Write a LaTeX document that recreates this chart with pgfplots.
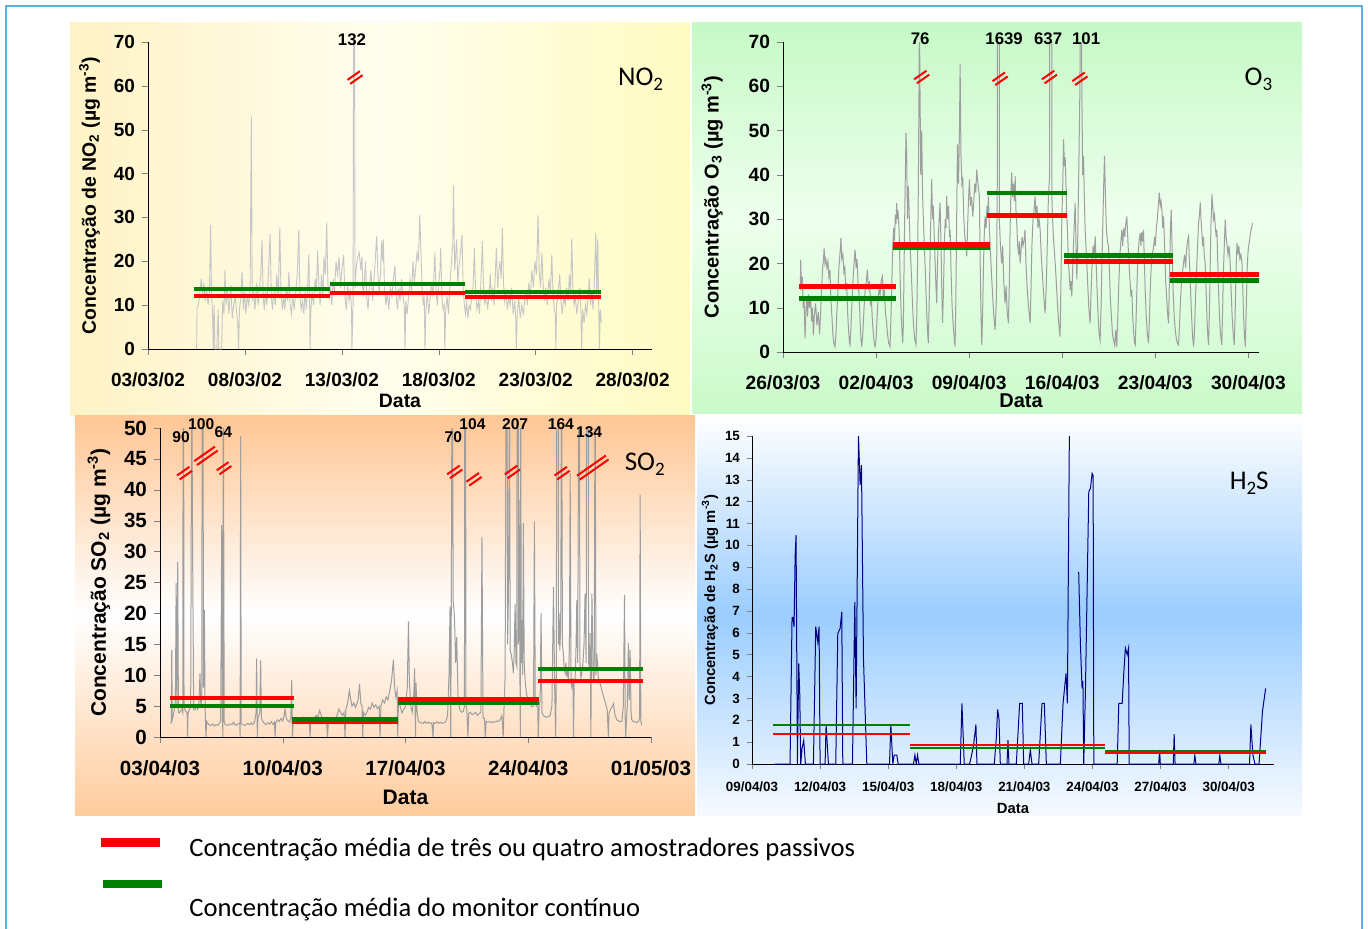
\documentclass[border=0pt]{standalone}
\usepackage{fontspec}
\setmainfont{Liberation Sans}
\newfontfamily\calibri{Carlito}
\usepackage{pgfplots}
\pgfplotsset{compat=1.18}

\definecolor{serie}{RGB}{158,158,158}
\definecolor{serieclara}{RGB}{198,198,198}
\definecolor{vermelho}{RGB}{255,0,0}
\definecolor{verde}{RGB}{0,128,0}
\definecolor{azulh}{RGB}{0,0,128}
\definecolor{moldura}{RGB}{85,180,225}

% marca de quebra (//) num pico fora da escala
\newcommand{\quebra}[3]{%
  \draw[vermelho, line width=1pt] (axis cs:#1,#2) ++(215:#3) ++(125:1.2pt) -- ++(35:2*#3);
  \draw[vermelho, line width=1pt] (axis cs:#1,#2) ++(215:#3) ++(-55:1.2pt) -- ++(35:2*#3);}
\newcommand{\titulo}[2]{{\calibri\fontsize{13.5}{14}\selectfont #1\raisebox{-0.45ex}{\fontsize{9.5}{10}\selectfont #2}}}

\pgfplotsset{
  painel/.style={
    scale only axis, axis lines=left, axis line style={-},
    tick align=outside, major tick length=3pt,
    clip mode=individual, unbounded coords=jump,
    ymin=0, xmin=0,
    /pgf/number format/assume math mode=true,
    xlabel={Data},
  },
}

\begin{document}
\begin{tikzpicture}
\useasboundingbox (0,0) rectangle (684pt,-464pt);

% fundos dos paineis
\shade[left color={rgb,255:red,255;green,243;blue,198}, right color={rgb,255:red,255;green,251;blue,194}, middle color={rgb,255:red,255;green,254;blue,238}] (35pt,-11pt) rectangle (345pt,-207.5pt);
\shade[top color={rgb,255:red,198;green,249;blue,198}, bottom color={rgb,255:red,202;green,250;blue,202}, middle color={rgb,255:red,238;green,255;blue,238}] (346pt,-11pt) rectangle (651pt,-206.5pt);
\shade[top color={rgb,255:red,255;green,198;blue,148}, bottom color={rgb,255:red,255;green,204;blue,158}, middle color=white] (37.5pt,-207.5pt) rectangle (347.5pt,-407.5pt);
\shade[top color=white, bottom color={rgb,255:red,246;green,250;blue,255}, middle color={rgb,255:red,155;green,205;blue,255}] (348.5pt,-207.5pt) rectangle (651pt,-407.5pt);
\draw[moldura, line width=0.6pt] (3pt,-470pt) -- (3pt,-3pt) -- (681pt,-3pt) -- (681pt,-470pt);

% ---------------- NO2 ----------------
\begin{axis}[painel, at={(74pt,-174.5pt)}, anchor=south west,
  width=252pt, height=153.5pt, xmax=26, ymax=70,
  xtick={0,5,...,25},
  xticklabels={03/03/02,08/03/02,13/03/02,18/03/02,23/03/02,28/03/02},
  ytick={0,10,...,70},
  tick label style={font=\bfseries\fontsize{9.5}{10}\selectfont},
  xticklabel style={yshift=-5.5pt},
  label style={font=\bfseries\fontsize{9.7}{10}\selectfont},
  xlabel style={at={(axis description cs:0.5,0)}, anchor=base, yshift=-29pt},
  ylabel={Concentração de NO\textsubscript{2} (µg m\textsuperscript{-3})}]
\addplot[serieclara, line width=0.45pt] coordinates {
(2.51,0)(2.53,9.5)(2.6,10)(2.68,13)(2.75,16)(2.82,12)(2.88,15)(2.95,11)(3.02,14)(3.1,10)(3.17,13)(3.23,28.3)(3.28,12)(3.33,8)(3.37,0)(3.41,10)(3.45,0)(3.55,0)(3.62,9)(3.66,0)(3.72,0)(3.8,0)(3.85,11)(3.92,8)(3.97,18)(4.03,10)(4.1,14)(4.17,8)(4.22,11)(4.27,14.5)(4.35,7)(4.42,10)(4.5,12)(4.58,8)(4.63,6)(4.67,0)(4.72,9)(4.79,12)(4.85,17.6)(4.92,9)(4.98,13)(5.05,8)(5.12,12)(5.2,10)(5.27,14)(5.33,53)(5.38,11)(5.45,13)(5.52,9)(5.6,15)(5.68,10)(5.75,14)(5.82,17)(5.88,24.8)(5.94,12)(6.0,9)(6.06,13)(6.13,10)(6.2,16)(6.3,26.2)(6.36,12)(6.42,9)(6.5,13)(6.57,10)(6.64,17)(6.72,12)(6.8,27.7)(6.86,13)(6.93,9)(7.0,12)(7.06,9)(7.13,14)(7.2,11)(7.27,17.5)(7.33,10)(7.4,8)(7.47,12)(7.54,9)(7.62,13)(7.7,17)(7.78,27.2)(7.84,12)(7.9,9)(7.97,11)(8.04,8)(8.1,13)(8.17,9)(8.24,15)(8.3,21.5)(8.34,10)(8.36,0)(8.4,9)(8.47,13)(8.54,10)(8.62,16)(8.68,13)(8.75,22.3)(8.82,14)(8.88,10)(8.95,17)(9.02,12)(9.08,21)(9.15,17)(9.22,28.8)(9.28,15)(9.35,12)(9.42,14)(9.48,10)(9.55,16)(9.62,13)(9.7,20)(9.78,17)(9.86,21)(9.93,14)(10.0,18)(10.09,21.4)(10.16,12)(10.23,9)(10.3,15)(10.37,11)(10.44,13)(10.5,9)(10.52,0)(10.58,10)(10.63,132)(10.68,14)(10.75,19)(10.82,21)(10.9,22)(10.97,18)(11.04,21)(11.1,12)(11.16,15)(11.22,20)(11.28,12)(11.35,9)(11.42,14)(11.5,18)(11.58,11)(11.65,15)(11.72,20)(11.8,25.8)(11.86,17)(11.93,13)(12.0,18)(12.05,24.7)(12.1,20)(12.14,25)(12.2,14)(12.27,10)(12.34,13)(12.42,9)(12.5,14)(12.58,12)(12.66,16)(12.74,19)(12.8,12)(12.87,9)(12.94,14)(13.0,11)(13.08,16)(13.15,12)(13.22,10)(13.26,0)(13.3,11)(13.37,8)(13.44,12)(13.52,16)(13.6,13)(13.67,20)(13.74,15)(13.8,18)(13.88,22)(13.95,20)(14.02,30.6)(14.08,22)(14.14,14)(14.2,10)(14.25,12)(14.29,0)(14.34,9)(14.41,13)(14.48,8)(14.55,11)(14.62,15)(14.7,12)(14.8,22)(14.86,13)(14.93,10)(15.0,15)(15.06,18)(15.1,23)(15.16,12)(15.22,9)(15.28,10)(15.31,0)(15.36,9)(15.43,12)(15.5,8)(15.58,15)(15.66,20)(15.72,24)(15.76,37.3)(15.82,18)(15.88,22)(15.92,25)(15.98,15)(16.05,19)(16.12,22)(16.2,26)(16.26,14)(16.32,10)(16.38,8)(16.43,11)(16.5,7)(16.57,10)(16.64,9)(16.7,12)(16.77,14)(16.84,23)(16.9,13)(16.97,9)(17.04,11)(17.1,8)(17.18,16)(17.25,24.6)(17.31,14)(17.38,10)(17.45,13)(17.52,9)(17.59,12)(17.66,17)(17.72,11)(17.78,14)(17.85,10)(17.91,16)(17.97,23)(18.04,14)(18.1,18)(18.16,20)(18.22,16)(18.28,27.7)(18.34,15)(18.4,11)(18.47,13)(18.54,9)(18.61,12)(18.68,10)(18.76,14)(18.84,8)(18.92,11)(18.97,7)(19.0,0)(19.05,8)(19.12,12)(19.2,7)(19.28,10)(19.36,8)(19.43,11)(19.5,13)(19.57,10)(19.64,15)(19.72,12)(19.8,18)(19.88,14)(19.96,20)(20.04,17)(20.12,30.5)(20.18,18)(20.25,14)(20.32,22)(20.38,15)(20.45,11)(20.52,14)(20.6,10)(20.68,16)(20.76,13)(20.83,21.5)(20.9,12)(20.96,9)(21.01,8)(21.04,0)(21.08,10)(21.16,13)(21.24,17)(21.3,11)(21.37,8)(21.44,12)(21.52,10)(21.6,14)(21.67,11)(21.74,17)(21.8,13)(21.86,25.2)(21.92,14)(21.98,10)(22.05,12)(22.12,8)(22.2,11)(22.27,14)(22.33,9)(22.37,0)(22.42,9)(22.5,6)(22.57,10)(22.64,8)(22.7,12)(22.77,16)(22.83,10)(22.9,13)(22.96,9)(23.03,16)(23.1,26.5)(23.15,12)(23.2,25)(23.25,10)(23.29,0)(23.33,9)(23.39,6)
};
\addplot[vermelho, line width=2pt] coordinates {(2.37,12.1)(9.38,12.1)};
\addplot[verde, line width=2pt] coordinates {(2.37,13.6)(9.38,13.6)};
\addplot[vermelho, line width=2pt] coordinates {(9.38,12.7)(16.36,12.7)};
\addplot[verde, line width=2pt] coordinates {(9.38,14.8)(16.36,14.8)};
\addplot[vermelho, line width=2pt] coordinates {(16.36,11.8)(23.39,11.8)};
\addplot[verde, line width=2pt] coordinates {(16.36,13.0)(23.39,13.0)};
\quebra{10.68}{61.9}{3.8pt}
\node[anchor=base, font=\bfseries\fontsize{8.4}{9}\selectfont] at (axis cs:10.52,69.3) {132};
\end{axis}
\node[anchor=base west] at (305.5pt,-42.5pt) {\titulo{NO}{2}};

% ---------------- O3 ----------------
\begin{axis}[painel, at={(391.5pt,-176pt)}, anchor=south west,
  width=238pt, height=155pt, xmax=35.8, ymax=70,
  xtick={0,7,...,35},
  xticklabels={26/03/03,02/04/03,09/04/03,16/04/03,23/04/03,30/04/03},
  ytick={0,10,...,70},
  tick label style={font=\bfseries\fontsize{9.6}{10}\selectfont},
  xticklabel style={yshift=-5.5pt},
  label style={font=\bfseries\fontsize{10}{11}\selectfont},
  xlabel style={at={(axis description cs:0.5,0)}, anchor=base, yshift=-27.5pt},
  ylabel style={xshift=0pt, yshift=6pt},
  ylabel={Concentração O\textsubscript{3} (µg m\textsuperscript{-3})}]
\addplot[serie, line width=0.5pt] coordinates {
(1.30,14)(1.33,20.8)(1.38,15)(1.45,17)(1.52,10)(1.58,12)(1.66,3.1)(1.72,9)(1.78,12)(1.85,8)(1.92,13)(2.0,10)(2.08,12)(2.15,7)(2.22,10)(2.28,3.8)(2.35,8)(2.45,11)(2.55,6)(2.65,9)(2.75,4)(2.83,9)(2.9,14)(2.98,19)(3.05,21)(3.09,23.5)(3.15,20)(3.22,21)(3.3,19)(3.38,20.5)(3.45,17)(3.53,18.6)(3.6,12)(3.68,8)(3.75,4)(3.82,2)(3.91,1.2)(3.98,4)(4.05,9)(4.12,13)(4.2,19)(4.28,22)(4.36,25.7)(4.42,21)(4.5,22)(4.58,18)(4.65,19)(4.72,14)(4.79,15.6)(4.86,9)(4.93,5)(5.0,2)(5.04,1.6)(5.1,5)(5.18,11)(5.26,16)(5.34,20)(5.42,23.1)(5.5,19)(5.57,21)(5.65,15)(5.72,13)(5.8,7)(5.86,3)(5.92,1.2)(6.0,4)(6.08,9)(6.15,13)(6.22,15)(6.3,17)(6.35,18.6)(6.42,14)(6.5,16)(6.58,11)(6.65,12)(6.72,7)(6.8,4)(6.86,2)(6.92,1.2)(7.0,3)(7.08,8)(7.15,12)(7.22,14)(7.3,13)(7.38,16)(7.47,17.1)(7.55,12)(7.62,14)(7.7,9)(7.78,7)(7.86,4)(7.95,2)(8.05,1.2)(8.12,8)(8.18,15)(8.25,23.9)(8.32,28)(8.38,25)(8.45,31)(8.5,29)(8.55,33.7)(8.6,30)(8.65,32)(8.73,27.6)(8.8,18)(8.87,10)(8.94,5)(9.0,2)(9.05,6)(9.1,18)(9.15,30)(9.2,40)(9.25,49.5)(9.3,45)(9.36,30)(9.43,37.4)(9.5,30)(9.56,24)(9.62,20)(9.68,15.6)(9.75,10)(9.82,6)(9.9,3)(10.0,1.6)(10.06,8)(10.12,20)(10.18,38)(10.23,60)(10.26,76)(10.3,60)(10.36,40)(10.43,50)(10.5,35)(10.58,28)(10.68,20)(10.75,14)(10.82,8)(10.88,4)(10.93,2)(11.0,12)(11.08,25)(11.13,32)(11.18,39)(11.25,30)(11.3,33)(11.36,27.6)(11.42,22)(11.5,15)(11.56,11)(11.62,20)(11.7,27)(11.76,31)(11.81,33.7)(11.88,25)(11.94,14)(12.0,6.5)(12.07,14)(12.14,25)(12.2,30)(12.26,28)(12.31,35.2)(12.38,30)(12.45,33)(12.52,26)(12.57,27.6)(12.64,18)(12.72,10)(12.8,6)(12.88,3)(12.94,1.2)(13.0,12)(13.06,30)(13.12,46.9)(13.2,38)(13.27,50)(13.32,65)(13.38,45)(13.45,38)(13.52,39)(13.6,30)(13.68,26)(13.75,24)(13.82,21.6)(13.9,30)(13.96,35)(14.02,39)(14.1,33)(14.18,35)(14.27,30.6)(14.35,34)(14.42,38)(14.5,36)(14.57,41.2)(14.63,39)(14.7,37)(14.77,35.2)(14.82,22)(14.88,10)(14.95,1.6)(15.02,10)(15.08,20)(15.14,27)(15.2,30.6)(15.27,28)(15.34,33)(15.4,31)(15.45,35.2)(15.52,28)(15.58,24)(15.64,20)(15.7,16.4)(15.78,12)(15.86,8)(15.95,5)(16.05,12)(16.12,40)(16.2,1639)(16.27,30)(16.35,24)(16.45,20)(16.52,24)(16.6,16)(16.7,11)(16.78,15)(16.86,9)(16.95,6.5)(17.02,15)(17.08,28)(17.14,36)(17.2,40.5)(17.27,35)(17.33,38)(17.4,34)(17.46,39.7)(17.52,32)(17.58,29)(17.65,24)(17.72,22)(17.78,25)(17.83,20)(17.9,23)(17.98,26)(18.05,24)(18.12,25)(18.2,27.6)(18.27,20)(18.35,15)(18.42,12)(18.5,9)(18.59,6.5)(18.65,14)(18.72,24)(18.8,30)(18.88,32)(18.96,35.2)(19.03,30)(19.1,33)(19.18,28)(19.26,30)(19.34,27.6)(19.42,22)(19.5,18)(19.58,14)(19.65,11)(19.71,8.8)(19.8,15)(19.88,25)(19.96,35)(20.05,40)(20.14,637)(20.22,35)(20.3,28)(20.38,24)(20.47,20)(20.55,16)(20.62,12)(20.7,8)(20.78,5)(20.84,3.5)(20.9,15)(20.97,30)(21.04,38)(21.1,48)(21.17,42)(21.22,44)(21.27,39)(21.33,32)(21.4,27)(21.47,20)(21.54,17)(21.6,14)(21.66,16)(21.72,12.5)(21.8,20)(21.88,27)(21.97,33.7)(22.03,25)(22.1,16.4)(22.18,28)(22.25,42)(22.33,60)(22.4,101)(22.47,60)(22.54,40)(22.6,44.3)(22.66,35)(22.72,28)(22.78,24)(22.85,20)(22.92,15)(23.0,10)(23.1,6.5)(23.17,14)(23.25,20)(23.32,24)(23.4,22)(23.48,26.1)(23.55,20)(23.62,14)(23.7,8)(23.77,4)(23.85,2.7)(23.92,10)(24.0,22)(24.06,30)(24.12,38)(24.18,44.3)(24.25,35)(24.32,28)(24.4,25)(24.48,23.8)(24.55,18)(24.62,12)(24.7,8)(24.78,4)(24.86,2.7)(24.95,1.5)(25.02,5)(25.1,1.2)(25.18,8)(25.26,16)(25.34,22)(25.41,25)(25.48,27.6)(25.55,24)(25.62,28)(25.7,26)(25.78,29)(25.86,30.6)(25.94,25)(26.02,20)(26.1,16)(26.17,12.5)(26.23,14)(26.3,8)(26.38,4)(26.44,2)(26.49,1.6)(26.56,8)(26.63,16)(26.7,22)(26.78,25)(26.86,26.9)(26.92,24)(26.98,27)(27.04,25)(27.11,27.6)(27.18,20)(27.25,13)(27.32,8)(27.4,4)(27.49,2)(27.56,8)(27.63,15)(27.7,20)(27.78,22)(27.87,23.8)(27.94,26)(28.0,24)(28.08,28)(28.15,30)(28.22,33)(28.3,36)(28.37,33)(28.43,34)(28.5,32)(28.56,28)(28.62,30.6)(28.7,24)(28.78,16)(28.86,12)(28.94,8)(29.0,6.5)(29.07,18)(29.14,28)(29.2,32.1)(29.27,22)(29.34,14)(29.42,8)(29.5,5)(29.58,3)(29.66,2)(29.75,1.6)(29.82,6)(29.9,12)(29.97,16)(30.04,18)(30.12,20)(30.2,22)(30.28,19)(30.35,23)(30.42,25)(30.5,26.1)(30.57,20)(30.64,15)(30.7,10)(30.76,6)(30.82,3)(30.88,1.2)(30.95,5)(31.02,12)(31.1,18)(31.18,24)(31.25,29)(31.32,31)(31.38,33.7)(31.44,30)(31.5,27)(31.56,24)(31.62,26)(31.68,22)(31.75,20)(31.82,14)(31.88,8)(31.94,4)(32.0,1.6)(32.06,8)(32.12,18)(32.18,28)(32.26,35.6)(32.32,33)(32.38,30)(32.45,31)(32.52,28)(32.58,26)(32.63,27.6)(32.7,20)(32.78,12)(32.86,6)(32.94,3)(33.0,1.6)(33.06,9)(33.12,18)(33.2,25)(33.26,29.9)(33.32,26)(33.4,24)(33.47,22)(33.55,24)(33.63,20)(33.7,14)(33.78,8)(33.86,4)(33.94,1.6)(34.0,8)(34.07,18)(34.14,24.6)(34.2,22)(34.28,24)(34.36,21)(34.44,22)(34.52,20)(34.58,14)(34.64,8)(34.7,4)(34.77,1.2)(34.84,10)(34.9,18)(34.96,22)(35.01,23.8)(35.08,25)(35.16,27)(35.24,28)(35.31,29.1)
};
\addplot[verde, line width=2.4pt] coordinates {(1.2,12.0)(8.48,12.0)};
\addplot[vermelho, line width=2.4pt] coordinates {(1.2,14.8)(8.48,14.8)};
\addplot[verde, line width=2.4pt] coordinates {(8.25,23.6)(15.58,23.6)};
\addplot[vermelho, line width=2.4pt] coordinates {(8.25,24.3)(15.58,24.3)};
\addplot[verde, line width=2.4pt] coordinates {(15.33,35.9)(21.35,35.9)};
\addplot[vermelho, line width=2.4pt] coordinates {(15.33,30.9)(21.35,30.9)};
\addplot[verde, line width=2.4pt] coordinates {(21.15,21.75)(29.3,21.75)};
\addplot[vermelho, line width=2.4pt] coordinates {(21.15,20.4)(29.3,20.4)};
\addplot[verde, line width=2.4pt] coordinates {(29.12,16.2)(35.9,16.2)};
\addplot[vermelho, line width=2.4pt] coordinates {(29.12,17.5)(35.9,17.5)};
\quebra{10.43}{62.1}{3.8pt}
\quebra{16.33}{61.7}{3.8pt}
\quebra{20.04}{62.1}{3.8pt}
\quebra{22.33}{61.7}{3.8pt}
\node[anchor=base, font=\bfseries\fontsize{8.4}{9}\selectfont] at (axis cs:10.31,69.5) {76};
\node[anchor=base, font=\bfseries\fontsize{8.4}{9}\selectfont] at (axis cs:16.63,69.5) {1639};
\node[anchor=base, font=\bfseries\fontsize{8.4}{9}\selectfont] at (axis cs:19.94,69.5) {637};
\node[anchor=base, font=\bfseries\fontsize{8.4}{9}\selectfont] at (axis cs:22.8,69.5) {101};
\end{axis}
\node[anchor=base west] at (618.8pt,-42.5pt) {\titulo{O}{3}};

% ---------------- SO2 ----------------
\begin{axis}[painel, at={(80pt,-368.5pt)}, anchor=south west,
  width=245.5pt, height=154.5pt, xmax=28, ymax=50,
  xtick={0,7,...,28},
  xticklabels={03/04/03,10/04/03,17/04/03,24/04/03,01/05/03},
  ytick={0,5,...,50},
  tick label style={font=\bfseries\fontsize{10.3}{11}\selectfont},
  xticklabel style={yshift=-5pt},
  label style={font=\bfseries\fontsize{10.5}{11}\selectfont},
  xlabel style={at={(axis description cs:0.5,0)}, anchor=base, yshift=-33.5pt},
  ylabel={Concentração SO\textsubscript{2} (µg m\textsuperscript{-3})}]
\addplot[serie, line width=0.5pt] coordinates {
(0.61,2.2)(0.65,2.5)(0.67,14.1)(0.7,2.8)(0.76,3.5)(0.82,4.5)(0.88,6)(0.92,24.9)(0.96,5)(1.01,28.4)(1.05,4)(1.1,3.9)(1.18,4.2)(1.25,4.5)(1.3,4)(1.33,90)(1.37,5)(1.44,4.2)(1.52,4)(1.55,3.8)(1.57,0)(1.6,4)(1.68,4.4)(1.75,5)(1.81,60)(1.86,30)(1.92,4.4)(2.0,4.4)(2.08,5)(2.15,4.5)(2.22,5.5)(2.28,10.3)(2.33,5)(2.38,6)(2.43,100)(2.48,8)(2.53,20.6)(2.57,5)(2.62,0)(2.66,2.5)(2.72,2.2)(2.8,2)(2.9,1.9)(3.0,2.1)(3.1,1.8)(3.2,2)(3.3,1.9)(3.4,2.3)(3.46,2.5)(3.52,34.3)(3.56,3)(3.59,0)(3.61,64)(3.66,2.5)(3.72,2)(3.85,1.9)(4.0,2.1)(4.1,2)(4.2,2.4)(4.3,1.9)(4.4,2)(4.5,2.2)(4.55,2.3)(4.57,0)(4.6,48.7)(4.63,2.2)(4.7,2)(4.85,1.9)(5.0,2.2)(5.1,2)(5.2,2.3)(5.3,2)(5.4,2.5)(5.48,4)(5.51,12.7)(5.55,0)(5.58,3)(5.64,3.5)(5.69,4)(5.74,12.4)(5.78,3)(5.85,2.6)(5.95,2.2)(6.05,2)(6.15,2.3)(6.25,2.1)(6.35,2.5)(6.45,2)(6.53,2.4)(6.56,0)(6.6,2.3)(6.7,2.8)(6.8,2.5)(6.9,3)(7.0,2.6)(7.08,3.5)(7.13,4.5)(7.2,3)(7.3,2.6)(7.4,2.4)(7.46,3)(7.51,9.2)(7.55,0)(7.6,2.5)(7.7,2.8)(7.8,2.4)(7.9,3)(8.0,2.6)(8.1,2.5)(8.2,3.2)(8.3,2.7)(8.4,2.5)(8.5,2.8)(8.56,0)(8.6,2.6)(8.7,2.8)(8.8,3)(8.9,3.5)(9.0,3.2)(9.1,4.3)(9.2,3.5)(9.3,2.8)(9.4,2.6)(9.5,2.5)(9.55,0)(9.6,2.4)(9.7,2.3)(9.8,2.5)(9.9,2.6)(10.0,2.8)(10.1,3.5)(10.2,4.5)(10.3,4)(10.4,3.5)(10.5,4)(10.55,0)(10.6,4.5)(10.7,5.5)(10.8,7.5)(10.85,6.5)(10.95,5)(11.05,5.5)(11.15,4.8)(11.3,6)(11.38,8.6)(11.45,5.5)(11.52,5)(11.56,0)(11.6,4)(11.7,3.5)(11.8,4)(11.9,4.8)(12.0,4.5)(12.1,5.5)(12.2,4.8)(12.3,5.2)(12.4,4.6)(12.5,5)(12.55,0)(12.6,5)(12.7,6)(12.8,5.5)(12.9,6.5)(13.0,6)(13.1,7.5)(13.2,9)(13.31,12.5)(13.38,8)(13.45,6.5)(13.52,7.5)(13.56,0)(13.6,6)(13.7,4.9)(13.8,3.9)(13.9,4.5)(14.0,5)(14.1,8)(14.17,18.7)(14.22,9)(14.3,5)(14.38,4)(14.46,6)(14.52,11.1)(14.57,0)(14.6,8.7)(14.66,4)(14.74,2.5)(14.85,2.3)(15.0,2.2)(15.1,2.5)(15.2,2.2)(15.3,2.4)(15.4,2.2)(15.5,2.3)(15.57,0)(15.6,2.3)(15.7,2.2)(15.8,2.5)(15.9,2.2)(16.0,2.4)(16.1,2.2)(16.2,2.3)(16.3,2.5)(16.4,3.5)(16.48,10)(16.54,21.1)(16.58,0)(16.62,27.5)(16.66,70)(16.72,22)(16.79,19.5)(16.86,12)(16.92,16.2)(17.0,6)(17.1,4.4)(17.2,4)(17.3,4.2)(17.36,5)(17.4,104)(17.45,5)(17.5,4.4)(17.56,0)(17.6,3.8)(17.7,4)(17.8,3.6)(17.9,3.8)(18.0,4)(18.1,3.5)(18.2,3.8)(18.3,4)(18.36,32.4)(18.42,3)(18.5,3)(18.55,0)(18.6,2.5)(18.7,2.4)(18.8,2.5)(18.9,2.3)(19.0,2.5)(19.1,2.4)(19.2,2.6)(19.3,2.5)(19.4,2.8)(19.5,3.5)(19.57,0)(19.62,5)(19.68,9.8)(19.77,90)(19.82,15)(19.87,23.2)(19.93,55)(19.97,14)(20.02,13.5)(20.1,12)(20.15,10.3)(20.2,14)(20.25,21.6)(20.3,12)(20.35,11.4)(20.4,207)(20.44,15)(20.48,38.4)(20.52,12)(20.55,0)(20.57,60)(20.6,12)(20.63,18.9)(20.68,10)(20.72,34.6)(20.77,12)(20.82,9.2)(20.9,7)(21.0,6)(21.1,5.5)(21.2,4.9)(21.3,5)(21.35,34.9)(21.4,5.4)(21.48,5)(21.54,4.9)(21.57,0)(21.62,5)(21.68,6)(21.73,20.1)(21.78,4)(21.85,3.5)(21.95,3.3)(22.05,3.2)(22.15,3.3)(22.25,3.5)(22.35,5)(22.44,24.3)(22.5,9.2)(22.56,0)(22.6,10)(22.68,164)(22.72,15)(22.76,20)(22.8,14)(22.85,17.8)(22.9,60)(22.95,15)(23.0,13.5)(23.05,11)(23.1,10.3)(23.15,12)(23.2,9.8)(23.25,11)(23.29,8.7)(23.35,15)(23.39,42.7)(23.44,9)(23.48,8.1)(23.55,9.5)(23.58,0)(23.62,9.2)(23.67,9.2)(23.72,14)(23.77,22.2)(23.82,12)(23.9,75)(23.95,12)(24.0,9.5)(24.05,10.3)(24.12,12)(24.18,15)(24.24,23.2)(24.3,12)(24.38,134)(24.44,12)(24.5,11)(24.53,16.8)(24.57,0)(24.6,12)(24.63,23.2)(24.7,10)(24.76,9)(24.81,60)(24.86,10)(24.91,13.5)(25.0,9.5)(25.1,8.7)(25.2,7.5)(25.29,6.6)(25.4,5.5)(25.5,4.5)(25.57,0)(25.6,3.8)(25.7,4.5)(25.8,5)(25.86,5.4)(25.95,3.5)(26.05,2.8)(26.15,2.6)(26.25,2.5)(26.34,2.5)(26.42,5)(26.49,23)(26.53,3)(26.56,0)(26.6,3)(26.65,5)(26.71,15.2)(26.76,6)(26.81,14.1)(26.86,4)(26.9,2.8)(27.0,2.5)(27.1,2.5)(27.2,2.3)(27.3,2.6)(27.35,3)(27.38,39.2)(27.42,2.5)(27.47,1.9)
};
\addplot[vermelho, line width=2pt] coordinates {(0.57,6.35)(7.64,6.35)};
\addplot[verde, line width=2pt] coordinates {(0.57,5.0)(7.64,5.0)};
\addplot[vermelho, line width=2pt] coordinates {(7.55,2.5)(13.6,2.5)};
\addplot[verde, line width=2pt] coordinates {(7.55,2.9)(13.6,2.9)};
\addplot[vermelho, line width=2pt] coordinates {(13.56,6.1)(21.64,6.1)};
\addplot[verde, line width=2pt] coordinates {(13.56,5.45)(21.64,5.45)};
\addplot[vermelho, line width=2pt] coordinates {(21.58,9.1)(27.57,9.1)};
\addplot[verde, line width=2pt] coordinates {(21.58,10.95)(27.57,10.95)};
\quebra{1.40}{42.7}{3.8pt}
\quebra{2.62}{45.5}{6.3pt}
\quebra{3.65}{43.5}{3.6pt}
\quebra{16.81}{42.9}{3.8pt}
\quebra{17.91}{41.7}{3.8pt}
\quebra{20.10}{42.9}{3.8pt}
\quebra{22.93}{42.7}{3.8pt}
\quebra{24.68}{43.6}{8.8pt}
\node[anchor=base, font=\bfseries\fontsize{7.8}{9}\selectfont] at (axis cs:1.2,47.7) {90};
\node[anchor=base, font=\bfseries\fontsize{7.8}{9}\selectfont] at (axis cs:2.35,49.7) {100};
\node[anchor=base, font=\bfseries\fontsize{7.8}{9}\selectfont] at (axis cs:3.61,48.5) {64};
\node[anchor=base, font=\bfseries\fontsize{7.8}{9}\selectfont] at (axis cs:16.73,47.7) {70};
\node[anchor=base, font=\bfseries\fontsize{7.8}{9}\selectfont] at (axis cs:17.82,49.7) {104};
\node[anchor=base, font=\bfseries\fontsize{7.8}{9}\selectfont] at (axis cs:20.25,49.7) {207};
\node[anchor=base, font=\bfseries\fontsize{7.8}{9}\selectfont] at (axis cs:22.86,49.7) {164};
\node[anchor=base, font=\bfseries\fontsize{7.8}{9}\selectfont] at (axis cs:24.47,48.5) {134};
\end{axis}
\node[anchor=base west] at (308.85pt,-235pt) {\titulo{SO}{2}};

% ---------------- H2S ----------------
\begin{axis}[painel, at={(376pt,-382pt)}, anchor=south west,
  width=261pt, height=164pt, xmax=23, ymax=15,
  xtick={0,3,...,21},
  xticklabels={09/04/03,12/04/03,15/04/03,18/04/03,21/04/03,24/04/03,27/04/03,30/04/03},
  ytick={0,1,...,15},
  major tick length=2.5pt,
  tick label style={font=\bfseries\fontsize{6.7}{7}\selectfont},
  xticklabel style={yshift=-3pt},
  label style={font=\bfseries\fontsize{7.4}{8}\selectfont},
  xlabel style={at={(axis description cs:0.5,0)}, anchor=base, yshift=-24.5pt},
  ylabel style={yshift=-3.5pt},
  ylabel={Concentração de H\textsubscript{2}S (µg m\textsuperscript{-3})}]
\addplot[azulh, line width=0.5pt] coordinates {
(1.0,0)(1.676,0)(1.764,6.69)(1.8,6.7)(1.853,6.28)(1.9,9.5)(1.941,10.47)(2.0,0)(2.058,4.6)(2.103,3.23)(2.147,0)(2.206,0.71)(2.279,1.09)(2.353,0)(2.706,0)(2.808,6.28)(2.897,5.59)(2.955,6.28)(3.0,0)(3.22,0)(3.264,1.8)(3.367,0)(3.69,0)(3.779,5.97)(3.882,6.2)(3.955,6.96)(4.0,0)(4.426,0)(4.529,7.42)(4.588,2.54)(4.69,15.1)(4.764,12.76)(4.823,13.67)(4.911,4.83)(5.058,0)(6.058,0)(6.117,1.8)(6.205,0)(6.264,0.41)(6.381,0.41)(6.44,0)(7.117,0)(7.176,0.41)(7.235,0)(7.293,0.41)(7.352,0)(9.175,0)(9.249,2.77)(9.352,0)(9.587,0)(9.675,0.41)(9.763,0.87)(9.866,1.81)(9.91,0)(10.675,0)(10.763,1.19)(10.822,2.5)(10.881,2.09)(10.94,0)(11.234,0)(11.278,1.09)(11.322,0)(11.645,0)(11.792,2.77)(11.91,2.77)(11.969,0)(12.19,0)(12.263,0.64)(12.337,0)(12.63,0)(12.778,2.77)(12.88,2.77)(12.969,0)(13.586,0)(13.704,2.77)(13.836,4.14)(13.895,2.77)(13.983,15.1)(14.03,20)(14.1,nan)(14.394,8.79)(14.468,5.52)(14.542,3.46)(14.58,3.8)(14.616,0)(14.69,3.3)(14.764,7.9)(14.838,12.45)(14.911,12.6)(14.985,13.29)(15.03,13.2)(15.06,0)(16.09,0)(16.16,2.77)(16.31,2.77)(16.38,4.14)(16.45,5.3)(16.53,5.0)(16.59,5.3)(16.62,0)(17.92,0)(17.96,0.65)(17.99,0)(18.56,0)(18.6,1.37)(18.64,0)(19.47,0)(19.51,0.41)(19.56,0)(20.57,0)(20.61,0.41)(20.66,0)(21.92,0)(21.98,1.81)(22.07,0.41)(22.16,0)(22.34,0)(22.49,2.4)(22.63,3.46)
};
\addplot[verde, line width=1pt] coordinates {(0.94,1.78)(6.94,1.78)};
\addplot[vermelho, line width=1pt] coordinates {(0.94,1.38)(6.94,1.38)};
\addplot[verde, line width=1pt] coordinates {(6.97,0.72)(15.57,0.72)};
\addplot[vermelho, line width=1pt] coordinates {(6.97,0.88)(15.57,0.88)};
\addplot[verde, line width=1pt] coordinates {(15.57,0.61)(22.66,0.61)};
\addplot[vermelho, line width=1pt] coordinates {(15.57,0.5)(22.66,0.5)};
\end{axis}
\node[anchor=base west] at (611.35pt,-244.5pt) {\titulo{H}{2}\calibri\fontsize{13.5}{14}\selectfont S};

% legenda
\fill[vermelho] (50.25pt,-419.2pt) rectangle (79.8pt,-423.3pt);
\fill[verde] (51.6pt,-440pt) rectangle (81.2pt,-443.8pt);
\node[anchor=base west, inner sep=0pt, font=\calibri\fontsize{13.3}{15}\selectfont] at (94.5pt,-428.3pt) {Concentração média de três ou quatro amostradores passivos};
\node[anchor=base west, inner sep=0pt, font=\calibri\fontsize{13.3}{15}\selectfont] at (94.5pt,-458.3pt) {Concentração média do monitor contínuo};
\end{tikzpicture}
\end{document}
